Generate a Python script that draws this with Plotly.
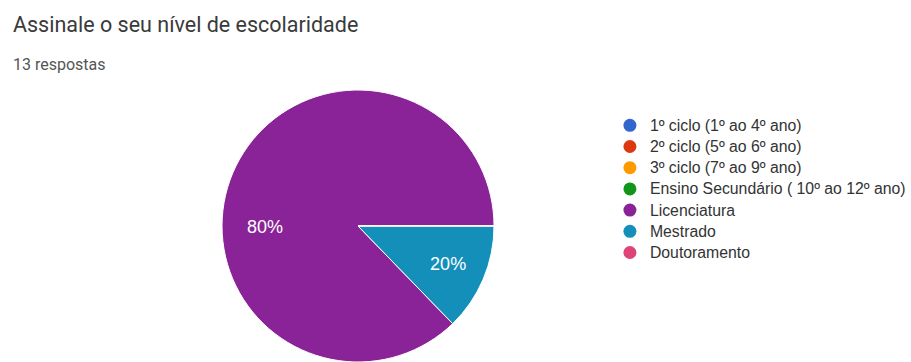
import plotly.graph_objects as go

title_text = "Assinale o seu nível de escolaridade"
subtitle_text = "13 respostas"
categories = ["1º ciclo (1º ao 4º ano)", "2º ciclo (5º ao 6º ano)", "3º ciclo (7º ao 9º ano)",
              "Ensino Secundário ( 10º ao 12º ano)", "Licenciatura", "Mestrado", "Doutoramento"]
# slice shares as drawn in the picture (angles)
values = [0, 0, 0, 0, 87.25, 12.75, 0]
shown_pct = ["", "", "", "", "80%", "20%", ""]
colors = ["#3366cc", "#dc3912", "#ff9900", "#109618", "#8b2398", "#148fba", "#dd4477"]

# the big slice's label is placed like the original (left of centre)
pie_text = [t if c == "Mestrado" else "" for t, c in zip(shown_pct, categories)]
big_label = shown_pct[categories.index("Licenciatura")]

fig = go.Figure()
fig.add_trace(go.Pie(
    labels=categories, values=values, text=pie_text, textinfo="text",
    sort=False, direction="counterclockwise", rotation=90,
    marker=dict(colors=colors, line=dict(color="white", width=1)),
    textfont=dict(family="Liberation Sans, Arial", size=18, color="white"),
    textposition="inside", insidetextorientation="horizontal",
    showlegend=False, hoverinfo="label+percent",
    domain=dict(x=[0.2437, 0.5423], y=[0.0, 0.7514]),
))
for name, col in zip(categories, colors):
    fig.add_trace(go.Scatter(x=[None], y=[None], mode="markers",
                             name=f'<span style="font-size:15.8px">{name}</span>',
                             marker=dict(color=col, size=13, symbol="circle")))

fig.update_layout(
    width=911, height=362, margin=dict(l=0, r=0, t=0, b=0),
    paper_bgcolor="white", plot_bgcolor="white",
    xaxis=dict(visible=False), yaxis=dict(visible=False),
    showlegend=True,
    legend=dict(x=0.6695, y=0.697, xanchor="left", yanchor="top",
                font=dict(family="Liberation Sans, Arial", size=14, color="#333333"),
                bgcolor="rgba(0,0,0,0)"),
    annotations=[
        dict(text=title_text, x=11/911, y=1 - 24/362, xref="paper", yref="paper",
             xanchor="left", yanchor="middle", showarrow=False,
             font=dict(family="Roboto", size=21.5, color="#3a3a3a")),
        dict(text=subtitle_text, x=11/911, y=1 - 64.5/362, xref="paper", yref="paper",
             xanchor="left", yanchor="middle", showarrow=False,
             font=dict(family="Roboto", size=16, color="#555555")),
        dict(text=big_label, x=265/911, y=1 - 227/362, xref="paper", yref="paper",
             xanchor="center", yanchor="middle", showarrow=False,
             font=dict(family="Liberation Sans, Arial", size=18, color="white")),
    ],
)
fig.write_html("out.html")
